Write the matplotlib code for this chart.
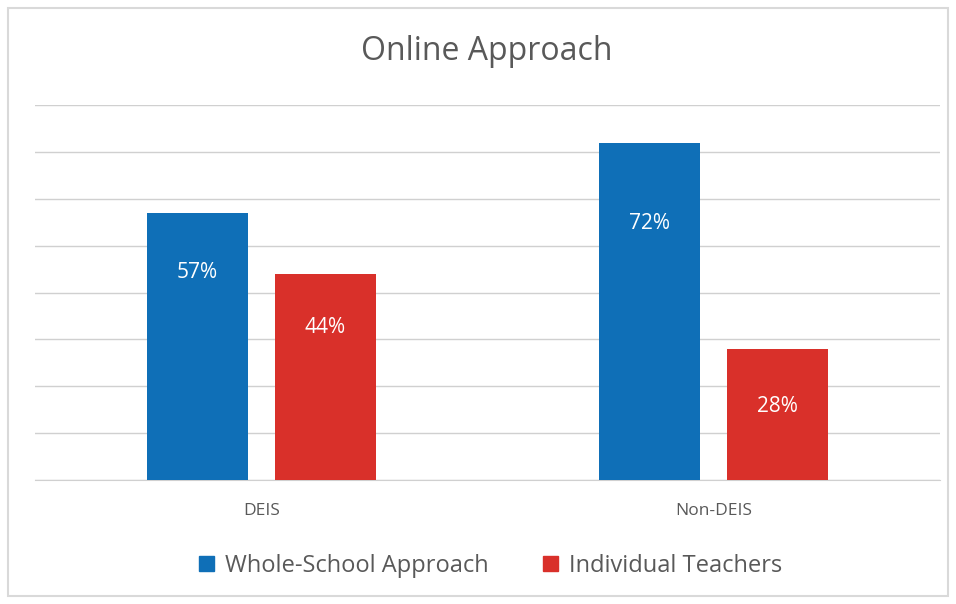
import matplotlib
matplotlib.use("Agg")
import matplotlib.pyplot as plt
from matplotlib.patches import Rectangle, Patch
import numpy as np

categories = ["DEIS", "Non-DEIS"]
series_names = ["Whole-School Approach", "Individual Teachers"]
whole_school = [0.57, 0.72]
individual = [0.44, 0.28]
title = "Online Approach"

colors = ["#0F6FB7", "#D9302A"]
# label vertical position as fraction of bar height (as in reference)
label_frac = [[0.775, 0.76], [0.737, 0.557]]

plt.rcParams['font.family'] = ['Open Sans', 'DejaVu Sans']

fig = plt.figure(figsize=(9.56, 6.04), dpi=100)
W, H = 956, 604
ax = fig.add_axes([35 / W, 1 - 480 / H, (940 - 35) / W, (480 - 105) / H])

x = np.arange(len(categories))
bw = 0.224
off = 0.1414
series = [whole_school, individual]
for i, vals in enumerate(series):
    bars = ax.bar(x + (-off if i == 0 else off), vals, width=bw, color=colors[i],
                  zorder=3, label=series_names[i])
    for j, b in enumerate(bars):
        v = vals[j]
        ax.text(b.get_x() + b.get_width() / 2, v * label_frac[i][j],
                f"{round(v * 100)}%", ha="center", va="center", color="white",
                fontsize=15, zorder=4)

ax.set_xlim(-0.5, 1.5)
ax.set_ylim(0, 0.8)
ax.set_yticks(np.arange(0, 0.81, 0.1))
ax.yaxis.grid(True, color="#D0D0D0", linewidth=1, zorder=0)
ax.tick_params(axis="y", left=False, labelleft=False)
ax.tick_params(axis="x", bottom=False, labelsize=12.5, labelcolor="#595959", pad=13)
ax.set_xticks(x)
ax.set_xticklabels(categories)
for s in ["top", "right", "left"]:
    ax.spines[s].set_visible(False)
ax.spines["bottom"].set_color("#D0D0D0")

fig.text(487 / W, 1 - 52 / H, title, ha="center", va="center", fontsize=23,
         color="#595959")

handles = [Patch(color=colors[0]), Patch(color=colors[1])]
fig.legend(handles, series_names, loc="center", bbox_to_anchor=(491 / W, 1 - 566 / H),
           ncol=2, frameon=False, fontsize=17, labelcolor="#595959",
           handlelength=0.6, handleheight=0.6, handletextpad=0.5, columnspacing=2.3)

fig.patches.append(Rectangle((8 / W, 8 / H), (948 - 8) / W, (596 - 8) / H,
                             transform=fig.transFigure, fill=False,
                             edgecolor="#D9D9D9", linewidth=1.5))

fig.savefig("out.png", dpi=100)
